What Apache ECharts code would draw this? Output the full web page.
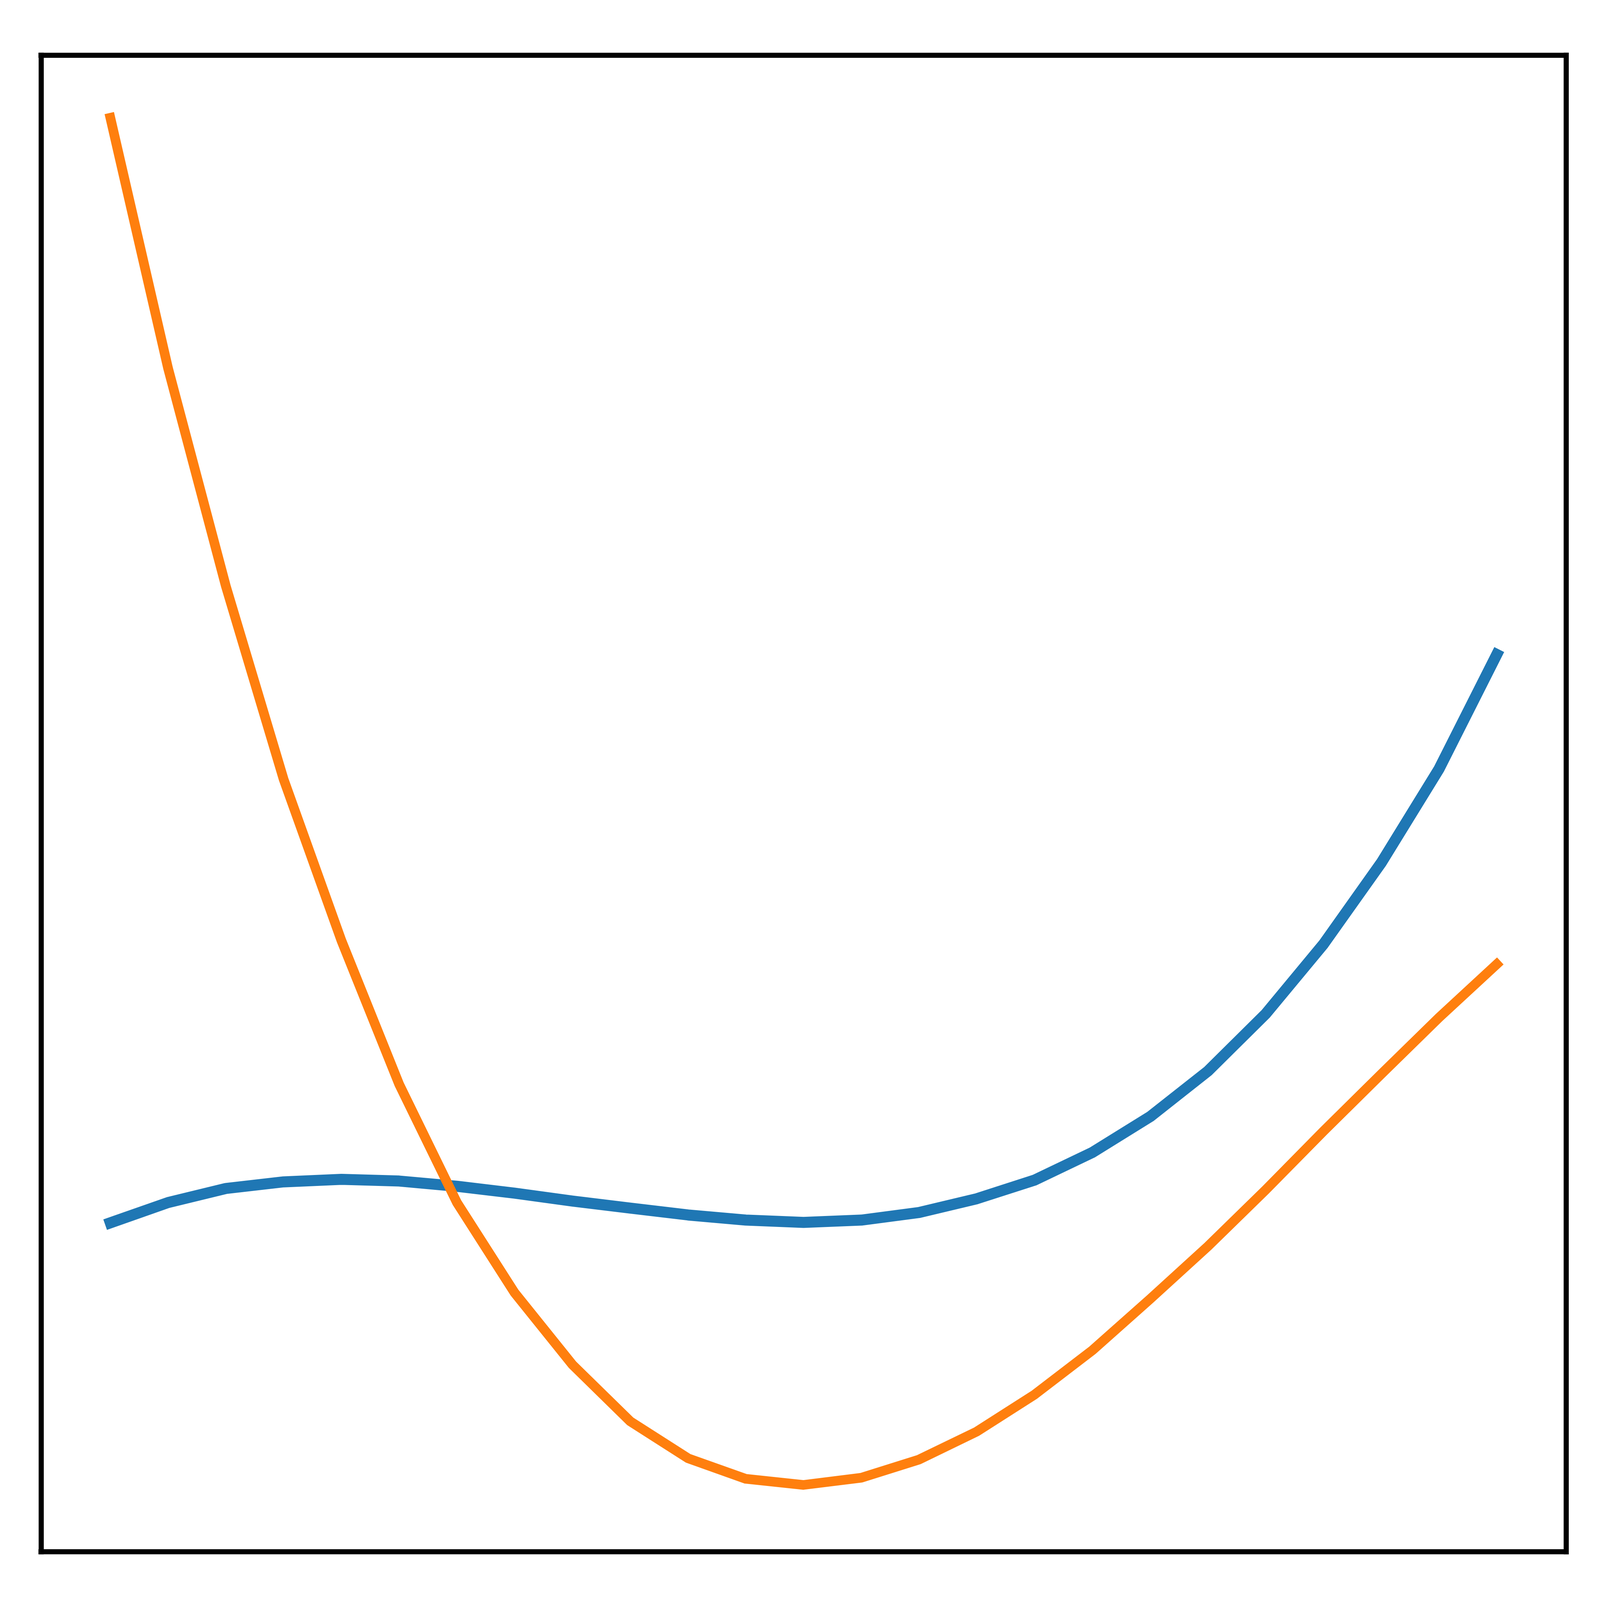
<!DOCTYPE html>
<html>
<head>
<meta charset="utf-8">
<script src="https://cdn.jsdelivr.net/npm/echarts@6/dist/echarts.min.js"></script>
<style>
html,body{margin:0;padding:0;background:#fff;overflow:hidden;width:100%;height:100%;}
#chart{width:100vw;height:100vh;}
</style>
</head>
<body>
<div id="chart"></div>
<script>
// x positions (index of point)
var xValues = [0,1,2,3,4,5,6,7,8,9,10,11,12,13,14,15,16,17,18,19,20,21,22,23,24];
// blue series (arbitrary units)
var blueValues = [238.5,253.2,263.4,268.2,270.0,268.8,265.0,260.0,254.3,249.2,244.2,240.5,238.8,240.5,246.0,256.0,269.5,289.5,315.5,348.5,390.0,440.5,499.5,567.5,650.5];
// orange series
var orangeValues = [1039.6,857.9,700.0,560.0,443.1,338.9,253.2,187.7,135.6,94.6,67.8,52.9,48.5,53.7,66.9,87.2,114.0,146.1,183.3,221.5,262.4,304.9,346.3,387.3,426.0];

function pairs(xs, ys){ return xs.map(function(x,i){ return [x, ys[i]]; }); }

var el = document.getElementById('chart');
var W = el.clientWidth, H = el.clientHeight;
var kx = W / 5850, ky = H / 4350, k = (kx + ky) / 2;
var spine = {show: true, onZero: false, lineStyle: {color: '#000000', width: 16 * k, cap: 'square'}};
var hidden = {axisTick: {show:false}, axisLabel: {show:false}, splitLine: {show:false}};
var chart = echarts.init(el, null, {renderer:'canvas'});
chart.setOption({
  animation: false,
  backgroundColor: '#ffffff',
  grid: {left: 150 * kx, top: 150 * ky, right: 124 * kx, bottom: 131 * ky},
  xAxis: [
    Object.assign({type: 'value', min: -1.2, max: 25.2, position: 'bottom', axisLine: spine}, hidden),
    Object.assign({type: 'value', min: -1.2, max: 25.2, position: 'top', axisLine: spine}, hidden)
  ],
  yAxis: [
    Object.assign({type: 'value', min: 0, max: 1085, position: 'left', axisLine: spine}, hidden),
    Object.assign({type: 'value', min: 0, max: 1085, position: 'right', axisLine: spine}, hidden)
  ],
  series: [
    {
      type: 'line', data: pairs(xValues, blueValues), showSymbol: false, symbol: 'none',
      clip: false,
      lineStyle: {color: '#1f77b4', width: 30 * ky, cap: 'square', join: 'round'}
    },
    {
      type: 'line', data: pairs(xValues, orangeValues), showSymbol: false, symbol: 'none',
      clip: false,
      lineStyle: {color: '#ff7f0e', width: 30 * k, cap: 'square', join: 'round'}
    }
  ]
});
</script>
</body>
</html>
